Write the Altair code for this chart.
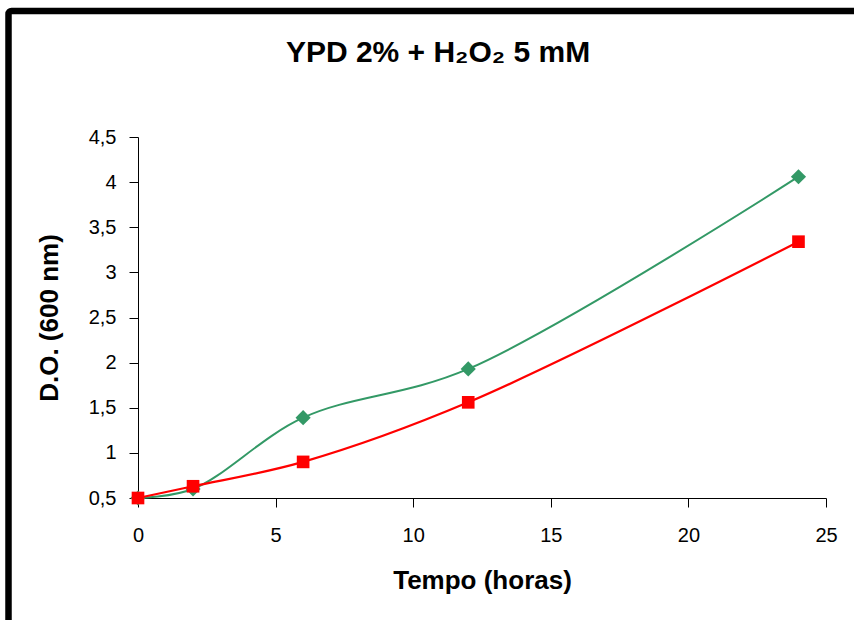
import altair as alt
import pandas as pd

# ---- data ----
tempo = [0, 2, 6, 12, 24]
do_verde = [0.50, 0.60, 1.39, 1.93, 4.06]
do_vermelho = [0.50, 0.63, 0.90, 1.56, 3.34]
x_ticks = [0, 5, 10, 15, 20, 25]
y_ticks = [0.5, 1, 1.5, 2, 2.5, 3, 3.5, 4, 4.5]

titulo = "YPD 2% + H₂O₂ 5 mM"
titulo_x = "Tempo (horas)"
titulo_y = "D.O. (600 nm)"

FONT = "Liberation Sans"
VERDE = "#339966"
VERMELHO = "#FF0000"

df_verde = pd.DataFrame({"t": tempo, "v": do_verde})
df_vermelho = pd.DataFrame({"t": tempo, "v": do_vermelho})

x_enc = alt.X(
    "t:Q",
    scale=alt.Scale(domain=[0, 25], nice=False, zero=False),
    axis=alt.Axis(values=x_ticks, title=titulo_x, format="d",
                  labelFlush=False, labelPadding=18, titlePadding=22),
)
y_enc = alt.Y(
    "v:Q",
    scale=alt.Scale(domain=[0.5, 4.5], nice=False, zero=False),
    axis=alt.Axis(values=y_ticks, title=titulo_y,
                  labelExpr="replace(format(datum.value, '.1~f'), '.', ',')",
                  labelFlush=False, labelPadding=13, titlePadding=26),
)

linha_verde = alt.Chart(df_verde).mark_line(
    color=VERDE, strokeWidth=2, interpolate="catmull-rom", clip=False
).encode(x=x_enc, y=y_enc)
pontos_verde = alt.Chart(df_verde).mark_point(
    shape="diamond", filled=True, color=VERDE, opacity=1, size=230, clip=False
).encode(x=x_enc, y=y_enc)
linha_vermelha = alt.Chart(df_vermelho).mark_line(
    color=VERMELHO, strokeWidth=2.2, interpolate="catmull-rom", clip=False
).encode(x=x_enc, y=y_enc)
pontos_vermelho = alt.Chart(df_vermelho).mark_point(
    shape="square", filled=True, color=VERMELHO, opacity=1, size=160, clip=False
).encode(x=x_enc, y=y_enc)

# outer black frame (decoration around the whole chart)
moldura = alt.Chart(pd.DataFrame({"a": [0]})).mark_rect(
    filled=False, stroke="black", strokeWidth=6.5, cornerRadius=3, clip=False
).encode(
    x=alt.value(8.5 - 138), x2=alt.value(900 - 138),
    y=alt.value(11 - 137), y2=alt.value(700 - 137),
)

chart = alt.layer(
    moldura, linha_verde, pontos_verde, linha_vermelha, pontos_vermelho
).properties(
    width=688,
    height=361,
    background="white",
    autosize=alt.AutoSizeParams(type="none"),
    padding={"left": 138, "top": 137, "right": 28, "bottom": 122},
    title=alt.TitleParams(
        text=titulo, font=FONT, fontSize=30, fontWeight="bold",
        color="black", anchor="middle", dx=-44, offset=-60,
    ),
).configure_view(
    stroke=None
).configure_axis(
    grid=False,
    domainColor="black",
    domainWidth=1,
    tickColor="black",
    tickWidth=1,
    tickSize=9,
    labelFont=FONT,
    labelFontSize=20,
    labelColor="black",
    titleFont=FONT,
    titleFontSize=26,
    titleFontWeight="bold",
    titleColor="black",
)

chart.save("out.html", embed_options={"renderer": "svg", "actions": False})
